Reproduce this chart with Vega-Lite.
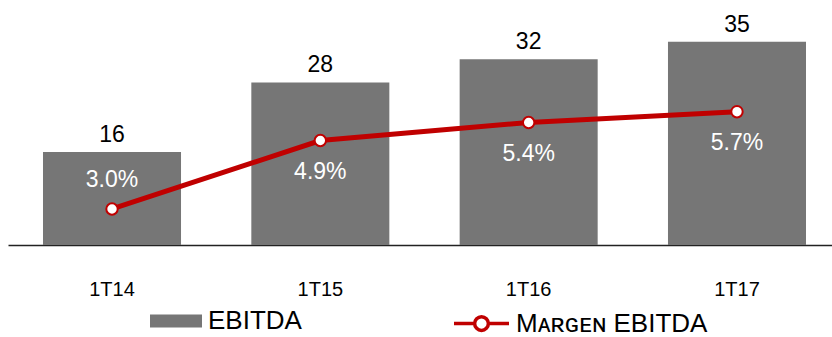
{
  "$schema": "https://vega.github.io/schema/vega-lite/v6.json",
  "width": 833,
  "height": 245,
  "autosize": {"type": "none"},
  "padding": {"left": 8, "top": 0, "right": 0, "bottom": 92},
  "background": "white",
  "config": {
    "view": {"stroke": null},
    "font": "Liberation Sans, Arial, sans-serif"
  },
  "data": {
    "values": [
      {"periodo": "1T14", "ebitda": 16, "margen": 3.0, "margen_txt": "3.0%", "s_bar": "EBITDA", "s_line": "Mᴀʀɢᴇɴ EBITDA"},
      {"periodo": "1T15", "ebitda": 28, "margen": 4.9, "margen_txt": "4.9%", "s_bar": "EBITDA", "s_line": "Mᴀʀɢᴇɴ EBITDA"},
      {"periodo": "1T16", "ebitda": 32, "margen": 5.4, "margen_txt": "5.4%", "s_bar": "EBITDA", "s_line": "Mᴀʀɢᴇɴ EBITDA"},
      {"periodo": "1T17", "ebitda": 35, "margen": 5.7, "margen_txt": "5.7%", "s_bar": "EBITDA", "s_line": "Mᴀʀɢᴇɴ EBITDA"}
    ]
  },
  "encoding": {
    "x": {
      "field": "periodo",
      "type": "nominal",
      "sort": null,
      "scale": {"paddingInner": 0.3375, "paddingOuter": 0.168},
      "axis": {
        "title": null,
        "labelAngle": 0,
        "labelFontSize": 20,
        "labelColor": "#000000",
        "labelFont": "Liberation Sans",
        "labelPadding": 34,
        "labelBaseline": "top",
        "ticks": false,
        "tickSize": 0,
        "domainColor": "#222222",
        "domainWidth": 1.3,
        "domainOpacity": 1,
        "grid": false
      }
    }
  },
  "layer": [
    {
      "encoding": {
        "y": {
          "field": "ebitda",
          "type": "quantitative",
          "scale": {"domain": [0, 42.2], "nice": false, "zero": true},
          "axis": null
        }
      },
      "layer": [
        {
          "mark": {"type": "bar"},
          "encoding": {
            "fill": {
              "field": "s_bar",
              "type": "nominal",
              "scale": {"domain": ["EBITDA"], "range": ["#767676"]},
              "legend": {
                "title": null,
                "orient": "none",
                "legendX": 142,
                "legendY": 295,
                "padding": 0,
                "symbolType": "M-1,-0.25H1V0.25H-1Z",
                "symbolSize": 2704,
                "symbolStrokeWidth": 0,
                "labelFontSize": 26,
                "labelFont": "Liberation Sans",
                "labelColor": "#000000",
                "labelOffset": 6,
                "labelLimit": 0
              }
            }
          }
        },
        {
          "mark": {"type": "text", "dy": -17, "fontSize": 23, "color": "#000000", "baseline": "middle"},
          "encoding": {"text": {"field": "ebitda", "type": "quantitative"}}
        }
      ]
    },
    {
      "encoding": {
        "y": {
          "field": "margen",
          "type": "quantitative",
          "scale": {"domain": [2, 8.8], "nice": false, "zero": false},
          "axis": null
        }
      },
      "layer": [
        {
          "mark": {"type": "line", "strokeWidth": 5},
          "encoding": {
            "stroke": {
              "field": "s_line",
              "type": "nominal",
              "scale": {"domain": ["Mᴀʀɢᴇɴ EBITDA"], "range": ["#C00000"]},
              "legend": {
                "title": null,
                "orient": "none",
                "legendX": 444,
                "legendY": 294,
                "padding": 0,
                "symbolType": "M-1,0H-0.25A0.25,0.25 0 1,1 0.25,0A0.25,0.25 0 1,1 -0.25,0M0.25,0H1",
                "symbolSize": 3025,
                "symbolStrokeWidth": 3.5,
                "symbolFillColor": "#ffffff",
                "labelFontSize": 26,
                "labelFont": "Liberation Sans",
                "labelColor": "#000000",
                "labelOffset": 5,
                "labelLimit": 0
              }
            }
          }
        },
        {
          "mark": {"type": "point", "shape": "circle", "filled": true, "fill": "#ffffff", "stroke": "#C00000", "strokeWidth": 2, "size": 130, "opacity": 1}
        },
        {
          "transform": [{"filter": "datum.periodo === '1T14'"}],
          "mark": {"type": "text", "dy": -29, "fontSize": 23, "color": "#ffffff", "baseline": "middle"},
          "encoding": {"text": {"field": "margen_txt", "type": "nominal"}}
        },
        {
          "transform": [{"filter": "datum.periodo !== '1T14'"}],
          "mark": {"type": "text", "dy": 31, "fontSize": 23, "color": "#ffffff", "baseline": "middle"},
          "encoding": {"text": {"field": "margen_txt", "type": "nominal"}}
        }
      ]
    }
  ],
  "resolve": {"scale": {"y": "independent"}}
}
